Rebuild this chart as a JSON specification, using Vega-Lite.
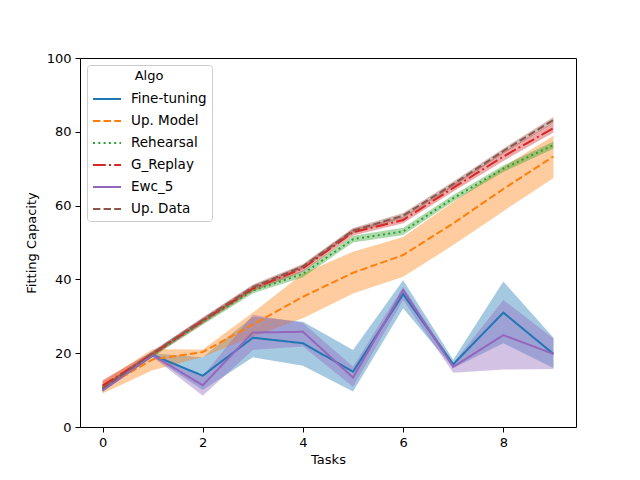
{
  "$schema": "https://vega.github.io/schema/vega-lite/v6.json",
  "description": "Fitting capacity per task for each algorithm, with confidence bands",
  "autosize": {"type": "none"},
  "padding": {"left": 80, "top": 58, "right": 64, "bottom": 53},
  "width": 496,
  "height": 369,
  "background": "white",
  "config": {
    "font": "DejaVu Sans",
    "view": {"stroke": "black", "strokeWidth": 1},
    "axis": {
      "domain": false,
      "grid": false,
      "ticks": true,
      "tickColor": "black",
      "tickSize": 5,
      "tickWidth": 1,
      "labelFontSize": 13,
      "labelColor": "black",
      "labelPadding": 4,
      "titleFontSize": 13,
      "titleFontWeight": "normal",
      "titleColor": "black"
    },
    "legend": {
      "orient": "top-left",
      "offset": 7,
      "fillColor": "white",
      "strokeColor": "#cccccc",
      "cornerRadius": 3,
      "padding": 5,
      "titleFontSize": 13,
      "titleFontWeight": "normal",
      "titleColor": "black",
      "titleAnchor": "middle",
      "titlePadding": 1,
      "labelFontSize": 13.5,
      "labelColor": "black",
      "labelOffset": 9,
      "symbolType": "stroke",
      "symbolSize": 784,
      "symbolStrokeWidth": 2,
      "symbolOpacity": 1,
      "rowPadding": -8.5
    }
  },
  "data": {
    "values": [
      {"task": 0, "algo": "Fine-tuning", "mean": 10.0, "lo": 9.5, "hi": 10.5},
      {"task": 1, "algo": "Fine-tuning", "mean": 19.5, "lo": 19.0, "hi": 20.0},
      {"task": 2, "algo": "Fine-tuning", "mean": 13.9, "lo": 10.0, "hi": 18.9},
      {"task": 3, "algo": "Fine-tuning", "mean": 24.2, "lo": 18.9, "hi": 29.9},
      {"task": 4, "algo": "Fine-tuning", "mean": 22.7, "lo": 16.6, "hi": 28.5},
      {"task": 5, "algo": "Fine-tuning", "mean": 15.0, "lo": 9.6, "hi": 20.9},
      {"task": 6, "algo": "Fine-tuning", "mean": 36.0, "lo": 32.2, "hi": 39.8},
      {"task": 7, "algo": "Fine-tuning", "mean": 17.0, "lo": 16.0, "hi": 18.2},
      {"task": 8, "algo": "Fine-tuning", "mean": 31.0, "lo": 22.7, "hi": 39.4},
      {"task": 9, "algo": "Fine-tuning", "mean": 19.8, "lo": 16.0, "hi": 24.2},

      {"task": 0, "algo": "Up. Model", "mean": 10.5, "lo": 9.1, "hi": 12.3},
      {"task": 1, "algo": "Up. Model", "mean": 18.3, "lo": 15.4, "hi": 21.1},
      {"task": 2, "algo": "Up. Model", "mean": 20.3, "lo": 19.0, "hi": 21.0},
      {"task": 3, "algo": "Up. Model", "mean": 27.8, "lo": 24.5, "hi": 31.0},
      {"task": 4, "algo": "Up. Model", "mean": 35.3, "lo": 29.5, "hi": 41.6},
      {"task": 5, "algo": "Up. Model", "mean": 41.8, "lo": 36.2, "hi": 47.5},
      {"task": 6, "algo": "Up. Model", "mean": 46.6, "lo": 40.7, "hi": 51.5},
      {"task": 7, "algo": "Up. Model", "mean": 55.2, "lo": 49.3, "hi": 61.0},
      {"task": 8, "algo": "Up. Model", "mean": 64.5, "lo": 58.5, "hi": 70.5},
      {"task": 9, "algo": "Up. Model", "mean": 73.3, "lo": 67.5, "hi": 78.9},

      {"task": 0, "algo": "Rehearsal", "mean": 10.5, "lo": 9.8, "hi": 11.2},
      {"task": 1, "algo": "Rehearsal", "mean": 19.6, "lo": 19.0, "hi": 20.2},
      {"task": 2, "algo": "Rehearsal", "mean": 28.5, "lo": 27.7, "hi": 29.3},
      {"task": 3, "algo": "Rehearsal", "mean": 37.0, "lo": 36.2, "hi": 37.8},
      {"task": 4, "algo": "Rehearsal", "mean": 41.5, "lo": 40.6, "hi": 42.4},
      {"task": 5, "algo": "Rehearsal", "mean": 50.9, "lo": 50.0, "hi": 51.8},
      {"task": 6, "algo": "Rehearsal", "mean": 53.0, "lo": 52.0, "hi": 54.0},
      {"task": 7, "algo": "Rehearsal", "mean": 62.0, "lo": 61.1, "hi": 62.9},
      {"task": 8, "algo": "Rehearsal", "mean": 70.0, "lo": 69.1, "hi": 70.9},
      {"task": 9, "algo": "Rehearsal", "mean": 76.4, "lo": 75.4, "hi": 77.4},

      {"task": 0, "algo": "G_Replay", "mean": 11.2, "lo": 10.0, "hi": 12.7},
      {"task": 1, "algo": "G_Replay", "mean": 19.8, "lo": 19.1, "hi": 20.5},
      {"task": 2, "algo": "G_Replay", "mean": 28.8, "lo": 28.0, "hi": 29.6},
      {"task": 3, "algo": "G_Replay", "mean": 37.5, "lo": 36.7, "hi": 38.3},
      {"task": 4, "algo": "G_Replay", "mean": 43.0, "lo": 42.1, "hi": 43.9},
      {"task": 5, "algo": "G_Replay", "mean": 52.8, "lo": 51.9, "hi": 53.7},
      {"task": 6, "algo": "G_Replay", "mean": 56.1, "lo": 55.2, "hi": 57.0},
      {"task": 7, "algo": "G_Replay", "mean": 64.8, "lo": 63.8, "hi": 65.8},
      {"task": 8, "algo": "G_Replay", "mean": 73.3, "lo": 72.1, "hi": 74.5},
      {"task": 9, "algo": "G_Replay", "mean": 81.0, "lo": 79.8, "hi": 82.5},

      {"task": 0, "algo": "Ewc_5", "mean": 10.0, "lo": 9.5, "hi": 10.5},
      {"task": 1, "algo": "Ewc_5", "mean": 19.5, "lo": 19.0, "hi": 20.0},
      {"task": 2, "algo": "Ewc_5", "mean": 11.3, "lo": 8.5, "hi": 13.8},
      {"task": 3, "algo": "Ewc_5", "mean": 25.6, "lo": 20.9, "hi": 30.4},
      {"task": 4, "algo": "Ewc_5", "mean": 25.8, "lo": 21.8, "hi": 28.2},
      {"task": 5, "algo": "Ewc_5", "mean": 13.4, "lo": 10.9, "hi": 16.3},
      {"task": 6, "algo": "Ewc_5", "mean": 37.1, "lo": 34.4, "hi": 38.0},
      {"task": 7, "algo": "Ewc_5", "mean": 16.3, "lo": 14.7, "hi": 17.3},
      {"task": 8, "algo": "Ewc_5", "mean": 24.9, "lo": 15.6, "hi": 34.4},
      {"task": 9, "algo": "Ewc_5", "mean": 19.8, "lo": 15.7, "hi": 24.0},

      {"task": 0, "algo": "Up. Data", "mean": 10.5, "lo": 9.8, "hi": 11.2},
      {"task": 1, "algo": "Up. Data", "mean": 20.0, "lo": 19.4, "hi": 20.6},
      {"task": 2, "algo": "Up. Data", "mean": 29.0, "lo": 28.3, "hi": 29.7},
      {"task": 3, "algo": "Up. Data", "mean": 37.9, "lo": 37.2, "hi": 38.6},
      {"task": 4, "algo": "Up. Data", "mean": 43.5, "lo": 42.8, "hi": 44.2},
      {"task": 5, "algo": "Up. Data", "mean": 53.2, "lo": 52.5, "hi": 53.9},
      {"task": 6, "algo": "Up. Data", "mean": 57.3, "lo": 56.6, "hi": 58.0},
      {"task": 7, "algo": "Up. Data", "mean": 65.8, "lo": 65.1, "hi": 66.5},
      {"task": 8, "algo": "Up. Data", "mean": 74.8, "lo": 74.1, "hi": 75.5},
      {"task": 9, "algo": "Up. Data", "mean": 83.2, "lo": 82.4, "hi": 84.0}
    ]
  },
  "encoding": {
    "x": {
      "field": "task",
      "type": "quantitative",
      "title": "Tasks",
      "scale": {"domain": [-0.45, 9.45], "nice": false, "zero": false},
      "axis": {"values": [0, 2, 4, 6, 8], "titlePadding": 4}
    }
  },
  "layer": [
    {
      "mark": {"type": "area", "fillOpacity": 0.4},
      "encoding": {
        "y": {
          "field": "lo",
          "type": "quantitative",
          "scale": {"domain": [0, 100], "nice": false},
          "axis": {"values": [0, 20, 40, 60, 80, 100], "titlePadding": 8},
          "title": "Fitting Capacity"
        },
        "y2": {"field": "hi"},
        "fill": {
          "field": "algo",
          "type": "nominal",
          "title": "Algo",
          "scale": {
            "domain": ["Fine-tuning", "Up. Model", "Rehearsal", "G_Replay", "Ewc_5", "Up. Data"],
            "range": ["#1f77b4", "#ff7f0e", "#2ca02c", "#d62728", "#9467bd", "#8c564b"]
          }
        }
      }
    },
    {
      "mark": {"type": "line", "strokeWidth": 2, "strokeCap": "butt"},
      "encoding": {
        "y": {"field": "mean", "type": "quantitative"},
        "stroke": {
          "field": "algo",
          "type": "nominal",
          "title": "Algo",
          "scale": {
            "domain": ["Fine-tuning", "Up. Model", "Rehearsal", "G_Replay", "Ewc_5", "Up. Data"],
            "range": ["#1f77b4", "#ff7f0e", "#2ca02c", "#d62728", "#9467bd", "#8c564b"]
          }
        },
        "strokeDash": {
          "field": "algo",
          "type": "nominal",
          "title": "Algo",
          "scale": {
            "domain": ["Fine-tuning", "Up. Model", "Rehearsal", "G_Replay", "Ewc_5", "Up. Data"],
            "range": [[1, 0], [7.4, 3.2], [2, 3.3], [12.8, 3.2, 2, 3.2], [1, 0], [7.4, 3.2]]
          }
        }
      }
    }
  ]
}
